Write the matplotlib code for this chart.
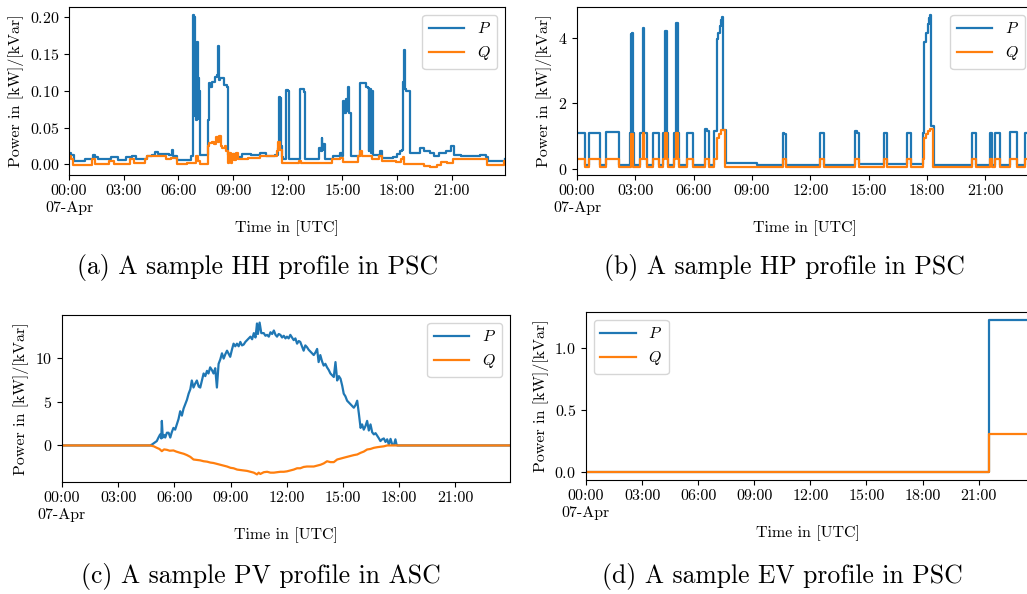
import datetime as dt
import matplotlib
matplotlib.use("Agg")
import matplotlib.pyplot as plt
import matplotlib.dates as mdates
from matplotlib.ticker import FuncFormatter, FixedLocator, MultipleLocator

plt.rcParams['font.family'] = 'serif'
plt.rcParams['font.serif'] = ['cmr10']
plt.rcParams['mathtext.fontset'] = 'cm'
plt.rcParams['axes.formatter.use_mathtext'] = True
plt.rcParams['axes.unicode_minus'] = True

DAY = dt.datetime(2021, 4, 7)

# ---------------- (a) HH profile (hours, kW / kVar) ----------------
hh_p_t = [0.00, 0.12, 0.25, 0.60, 0.90, 1.10, 1.30, 1.45, 1.60, 2.20, 2.30, 2.60, 2.70, 3.00, 3.10,
          3.45, 3.70, 4.20, 4.30, 4.55, 4.70, 4.90, 5.50, 5.65, 5.70, 5.85, 5.95, 6.60, 6.70, 6.78,
          6.82, 6.86, 6.89, 6.93, 6.97, 7.01, 7.05, 7.09, 7.13, 7.16, 7.60, 7.64, 7.68, 7.75, 7.85,
          8.00, 8.10, 8.17, 8.22, 8.30, 8.50, 8.66, 8.72, 8.90, 9.00, 9.20, 9.50, 10.0, 10.5, 10.8,
          11.3, 11.45, 11.52, 11.55, 11.62, 11.66, 11.72, 11.88, 11.91, 12.02, 12.05, 12.65, 12.69,
          12.88, 12.92, 13.60, 13.70, 13.80, 13.86, 13.90, 13.95, 14.05, 14.50, 14.85, 15.00, 15.05,
          15.10, 15.17, 15.25, 15.32, 15.38, 15.45, 15.90, 15.95, 16.00, 16.30, 16.42, 16.45, 16.48,
          16.55, 16.58, 16.61, 16.66, 16.69, 17.00, 17.06, 17.15, 17.50, 17.80, 18.00, 18.15, 18.28,
          18.32, 18.38, 18.43, 18.50, 18.62, 18.68, 18.72, 19.00, 19.25, 19.50, 19.80, 20.00, 20.30,
          20.70, 20.98, 21.10, 21.50, 22.00, 22.55, 22.90, 23.00, 23.80, 23.917]
hh_p_v = [0.015, 0.013, 0.005, 0.005, 0.007, 0.008, 0.013, 0.010, 0.008, 0.008, 0.010, 0.010, 0.006, 0.006, 0.010,
          0.012, 0.008, 0.008, 0.012, 0.013, 0.017, 0.014, 0.013, 0.020, 0.012, 0.012, 0.006, 0.006, 0.012, 0.014,
          0.203, 0.200, 0.065, 0.165, 0.060, 0.166, 0.062, 0.117, 0.100, 0.013, 0.013, 0.060, 0.110, 0.105, 0.112,
          0.118, 0.121, 0.160, 0.114, 0.117, 0.108, 0.105, 0.013, 0.008, 0.014, 0.010, 0.014, 0.013, 0.015, 0.012,
          0.013, 0.022, 0.092, 0.090, 0.025, 0.010, 0.008, 0.008, 0.101, 0.099, 0.007, 0.008, 0.102,
          0.098, 0.008, 0.008, 0.022, 0.018, 0.036, 0.020, 0.028, 0.008, 0.011, 0.016, 0.012, 0.086,
          0.070, 0.088, 0.072, 0.105, 0.070, 0.011, 0.011, 0.111, 0.110, 0.105, 0.104, 0.018, 0.102,
          0.100, 0.016, 0.100, 0.098, 0.013, 0.012, 0.018, 0.009, 0.009, 0.010, 0.014, 0.018, 0.020,
          0.112, 0.155, 0.102, 0.100, 0.100, 0.020, 0.016, 0.016, 0.022, 0.018, 0.016, 0.011, 0.016,
          0.018, 0.025, 0.013, 0.011, 0.011, 0.013, 0.010, 0.0045, 0.0045, 0.008]
hh_q_t = [0.00, 0.12, 0.22, 1.25, 1.40, 2.20, 2.45, 3.35, 3.55, 4.15, 4.28, 5.30, 5.60, 5.95, 6.50,
          6.95, 7.10, 7.18, 7.62, 7.70, 7.85, 7.95, 8.05, 8.15, 8.25, 8.33, 8.42, 8.55, 8.62, 8.72,
          8.80, 8.86, 8.95, 9.05, 9.15, 9.25, 9.80, 10.45, 11.40, 11.47, 11.55, 11.70, 12.60, 12.75,
          14.45, 14.85, 15.05, 15.85, 15.95, 16.10, 16.60, 17.00, 17.15, 17.95, 18.20, 18.30, 18.40,
          19.45, 19.80, 20.20, 20.40, 20.75, 21.05, 21.35, 22.60, 22.95, 23.85, 23.917]
hh_q_v = [0.012, 0.007, -0.001, 0.007, 0.000, 0.0045, 0.000, 0.007, 0.002, 0.007, 0.011, 0.007, 0.009, 0.000, 0.002,
          0.012, 0.005, 0.000, 0.025, 0.029, 0.031, 0.027, 0.037, 0.030, 0.038, 0.025, 0.022, 0.025, 0.018, 0.002,
          0.016, 0.002, 0.014, 0.006, 0.016, 0.007, 0.009, 0.011, 0.018, 0.031, 0.020, 0.002, 0.005, 0.002,
          0.007, 0.009, 0.003, 0.011, 0.018, 0.012, 0.007, 0.011, 0.004, 0.003, 0.007, 0.010, 0.000,
          -0.002, -0.004, -0.001, 0.003, 0.002, 0.007, 0.008, 0.008, -0.001, 0.004, 0.004]

# ---------------- (b) HP profile ----------------
hp_p_t = [0.00, 0.40, 0.62, 1.18, 1.48, 2.18, 2.74, 2.77, 2.84, 2.88, 2.92, 3.24, 3.38, 3.45, 3.62,
          3.89, 4.24, 4.44, 4.53, 4.61, 4.70, 4.99, 5.09, 5.18, 5.27, 5.64, 5.95, 6.59, 6.68, 6.81,
          7.05, 7.19, 7.26, 7.33, 7.40, 7.44, 7.53, 7.67, 9.25, 10.57, 10.66, 10.75, 12.50, 12.68,
          14.30, 14.40, 14.48, 15.80, 15.93, 16.99, 17.17, 17.79, 17.86, 17.95, 18.05, 18.12, 18.16,
          18.22, 18.34, 20.31, 20.53, 21.22, 21.34, 21.51, 21.77, 22.28, 22.63, 23.05, 23.40, 23.45]
hp_p_v = [1.10, 0.12, 1.10, 0.12, 1.11, 0.12, 1.10, 4.10, 4.15, 1.10, 0.12, 1.10, 4.30, 1.10, 0.12,
          1.10, 0.12, 1.10, 4.20, 1.10, 0.12, 1.10, 4.44, 1.10, 0.12, 1.10, 0.12, 1.21, 1.15, 0.12,
          1.15, 3.95, 4.15, 4.35, 4.55, 4.62, 1.19, 0.17, 0.12, 1.10, 1.05, 0.12, 1.10, 0.12,
          1.16, 1.08, 0.14, 1.10, 0.14, 1.10, 0.14, 1.10, 3.85, 4.15, 4.40, 4.60, 4.70,
          1.30, 0.12, 1.10, 0.12, 1.10, 0.12, 1.10, 0.12, 1.12, 0.12, 1.10, 0.12, 0.12]
hp_q_t = [0.00, 0.40, 0.62, 1.18, 1.48, 2.18, 2.76, 2.88, 3.24, 3.38, 3.47, 3.62, 3.89, 4.24,
          4.44, 4.53, 4.61, 4.70, 4.99, 5.09, 5.18, 5.27, 5.64, 5.95, 6.59, 6.81, 7.05, 7.19, 7.30,
          7.42, 7.62, 10.57, 10.75, 12.50, 12.68, 14.30, 14.48, 15.80, 15.93, 16.99, 17.17, 17.79,
          17.86, 17.95, 18.05, 18.16, 18.30, 20.31, 20.53, 21.22, 21.34, 21.51, 21.77, 22.28, 22.63,
          23.05, 23.40, 23.45]
hp_q_v = [0.28, 0.04, 0.28, 0.04, 0.28, 0.04, 1.05, 0.04, 0.28, 1.08, 0.28, 0.04, 0.28, 0.04,
          0.28, 1.08, 0.28, 0.04, 0.28, 1.10, 0.28, 0.04, 0.28, 0.04, 0.30, 0.04, 0.28, 0.95, 1.05,
          1.18, 0.04, 0.28, 0.04, 0.28, 0.04, 0.28, 0.04, 0.28, 0.04, 0.28, 0.04, 0.28,
          0.95, 1.05, 1.15, 1.20, 0.04, 0.28, 0.04, 0.28, 0.04, 0.28, 0.04, 0.28, 0.04,
          0.28, 0.04, 0.04]

# ---------------- (c) PV profile ----------------
pv_p_t = [0.00, 4.70, 4.80, 5.06, 5.15, 5.24, 5.30, 5.33, 5.38, 5.45, 5.51, 5.60, 5.69, 5.78, 5.86,
          5.95, 6.04, 6.13, 6.22, 6.31, 6.40, 6.49, 6.58, 6.67, 6.76, 6.85, 6.93, 7.02, 7.10, 7.20,
          7.30, 7.38, 7.47, 7.56, 7.65, 7.74, 7.82, 7.91, 8.00, 8.09, 8.18, 8.27, 8.36, 8.45, 8.54,
          8.63, 8.72, 8.81, 8.98, 9.07, 9.16, 9.25, 9.34, 9.43, 9.52, 9.61, 9.70, 9.79, 9.88, 9.97,
          10.06, 10.15, 10.24, 10.33, 10.41, 10.46, 10.55, 10.64, 10.77, 10.86, 10.95, 11.04, 11.13,
          11.22, 11.31, 11.40, 11.48, 11.57, 11.66, 11.75, 11.84, 11.93, 12.01, 12.10, 12.19, 12.28,
          12.37, 12.46, 12.55, 12.64, 12.72, 12.81, 12.90, 12.99, 13.08, 13.17, 13.26, 13.35, 13.44,
          13.53, 13.62, 13.70, 13.79, 13.88, 13.97, 14.06, 14.15, 14.24, 14.33, 14.42, 14.51, 14.60,
          14.69, 14.78, 14.87, 14.96, 15.04, 15.13, 15.22, 15.31, 15.40, 15.49, 15.58, 15.67, 15.76,
          15.85, 15.94, 16.02, 16.11, 16.20, 16.29, 16.38, 16.47, 16.56, 16.65, 16.74, 16.83, 16.92,
          17.00, 17.09, 17.18, 17.27, 17.36, 17.45, 17.54, 17.63, 17.72, 17.80, 17.86, 17.90, 23.917]
pv_p_v = [0.0, 0.0, 0.1, 0.5, 0.9, 1.26, 0.8, 2.8, 0.9, 1.2, 0.9, 1.45, 1.45, 0.9, 1.5,
          2.0, 1.8, 2.4, 3.0, 3.9, 3.4, 4.2, 4.7, 5.2, 5.9, 6.4, 7.4, 6.6, 7.0, 7.4,
          6.7, 6.6, 7.4, 8.2, 7.9, 8.5, 8.2, 8.9, 8.6, 8.2, 8.8, 6.6, 9.3, 9.8, 10.5,
          9.9, 10.4, 10.8, 10.1, 10.9, 11.6, 11.3, 11.6, 11.3, 11.8, 11.4, 11.5, 11.8, 12.0, 12.2,
          12.4, 12.1, 12.8, 12.3, 13.9, 12.7, 14.0, 12.8, 12.8, 12.5, 12.6, 12.4, 12.9,
          12.7, 13.1, 12.6, 12.4, 12.7, 12.6, 12.3, 12.5, 12.2, 12.4, 12.2, 12.6, 12.3,
          12.0, 12.2, 11.6, 11.9, 11.8, 11.3, 10.8, 11.4, 11.2, 10.9, 10.7, 10.5, 10.3,
          10.6, 11.0, 9.5, 10.3, 9.6, 9.1, 9.3, 8.9, 8.6, 8.2, 8.0, 7.8, 9.5,
          7.4, 7.9, 7.6, 6.8, 5.9, 5.6, 5.1, 4.9, 4.7, 4.5, 4.3, 4.6, 5.1,
          3.6, 2.0, 2.4, 1.8, 2.2, 2.8, 1.7, 2.4, 1.5, 1.26, 1.4, 1.1, 0.8,
          0.5, 0.7, 0.8, 0.4, 0.7, 0.1, 0.75, 0.1, 0.05, 0.7, 0.1, 0.0, 0.0]
pv_q_t = [0.00, 4.70, 4.90, 5.06, 5.20, 5.33, 5.45, 5.60, 5.75, 5.95, 6.10, 6.31, 6.50, 6.67, 6.85,
          7.02, 7.20, 7.38, 7.56, 7.75, 7.92, 8.09, 8.27, 8.45, 8.63, 8.81, 9.00, 9.16, 9.35, 9.52,
          9.70, 9.88, 10.06, 10.24, 10.41, 10.50, 10.59, 10.77, 10.95, 11.13, 11.31, 11.48, 11.66,
          11.84, 12.01, 12.19, 12.37, 12.55, 12.72, 12.90, 13.08, 13.26, 13.44, 13.62, 13.80, 13.97,
          14.15, 14.33, 14.51, 14.69, 14.87, 15.04, 15.22, 15.40, 15.58, 15.76, 15.94, 16.11, 16.29,
          16.47, 16.65, 16.83, 17.00, 17.18, 17.36, 23.917]
pv_q_v = [0.0, 0.0, -0.10, -0.27, -0.40, -0.65, -0.45, -0.50, -0.60, -0.57, -0.70, -0.84, -0.95, -1.10, -1.30,
          -1.60, -1.65, -1.70, -1.80, -1.85, -1.95, -2.00, -2.10, -2.20, -2.30, -2.40, -2.55, -2.60, -2.75, -2.80,
          -2.85, -2.90, -3.00, -3.10, -3.30, -3.10, -3.25, -3.05, -3.00, -3.10, -3.10, -3.05, -3.00,
          -3.00, -2.95, -2.85, -2.75, -2.60, -2.60, -2.45, -2.40, -2.40, -2.40, -2.30, -2.20, -2.05,
          -1.80, -1.90, -1.90, -1.60, -1.50, -1.40, -1.30, -1.20, -1.10, -1.03, -0.84, -0.70, -0.46,
          -0.40, -0.27, -0.20, -0.15, -0.10, 0.0, 0.0]

# ---------------- (d) EV profile ----------------
ev_t = [0.00, 21.55, 23.75]
ev_p_v = [0.0, 1.23, 1.23]
ev_q_v = [0.0, 0.31, 0.31]

captions = ["(a) A sample HH profile in PSC", "(b) A sample HP profile in PSC",
            "(c) A sample PV profile in ASC", "(d) A sample EV profile in PSC"]
tick_hours = [0, 3, 6, 9, 12, 15, 18, 21]

BLUE = '#1f77b4'
ORANGE = '#ff7f0e'
W, H = 1027, 594
FS = 11.5


def to_dt(hours):
    return [DAY + dt.timedelta(hours=h) for h in hours]


def fmt(x, pos=None):
    d = mdates.num2date(x)
    if d.hour == 0 and d.minute == 0:
        return d.strftime('%H:%M\n%d-%b')
    return d.strftime('%H:%M')


fig = plt.figure(figsize=(W / 100, H / 100), dpi=100)


def make_ax(left, top, right, bottom):
    return fig.add_axes([left / W, 1 - bottom / H, (right - left) / W, (bottom - top) / H])


panels = [
    (make_ax(69, 7, 505, 175), hh_p_t, hh_p_v, hh_q_t, hh_q_v, 'steps-post', 'upper right', 0.05),
    (make_ax(577, 7, 1033, 175), hp_p_t, hp_p_v, hp_q_t, hp_q_v, 'steps-post', 'upper right', 2),
    (make_ax(62, 315, 510, 482), pv_p_t, pv_p_v, pv_q_t, pv_q_v, 'default', 'upper right', 5),
    (make_ax(586, 312, 1030, 480), ev_t, ev_p_v, ev_t, ev_q_v, 'steps-post', 'upper left', 0.5),
]

for ax, pt, pv, qt, qv, ds, loc, ystep in panels:
    ax.plot(to_dt(pt), pv, color=BLUE, lw=1.6, drawstyle=ds, label='$P$')
    ax.plot(to_dt(qt), qv, color=ORANGE, lw=1.6, drawstyle=ds, label='$Q$')
    ax.set_xlim(to_dt([min(pt)])[0], to_dt([max(pt)])[0])
    ax.xaxis.set_major_locator(FixedLocator(mdates.date2num(to_dt(tick_hours))))
    ax.xaxis.set_major_formatter(FuncFormatter(fmt))
    ax.yaxis.set_major_locator(MultipleLocator(ystep))
    ax.tick_params(labelsize=FS)
    ax.set_xlabel('Time in [UTC]', fontsize=FS)
    ax.set_ylabel('Power in [kW]/[kVar]', fontsize=FS)
    ax.legend(loc=loc, fontsize=FS, handlelength=2.2)

fig.text(258 / W, 1 - 268 / H, captions[0], ha='center', va='center', fontsize=18.5)
fig.text(784 / W, 1 - 268 / H, captions[1], ha='center', va='center', fontsize=18.5)
fig.text(261 / W, 1 - 576 / H, captions[2], ha='center', va='center', fontsize=18.5)
fig.text(782 / W, 1 - 576 / H, captions[3], ha='center', va='center', fontsize=18.5)

fig.savefig('out.png', dpi=100)
